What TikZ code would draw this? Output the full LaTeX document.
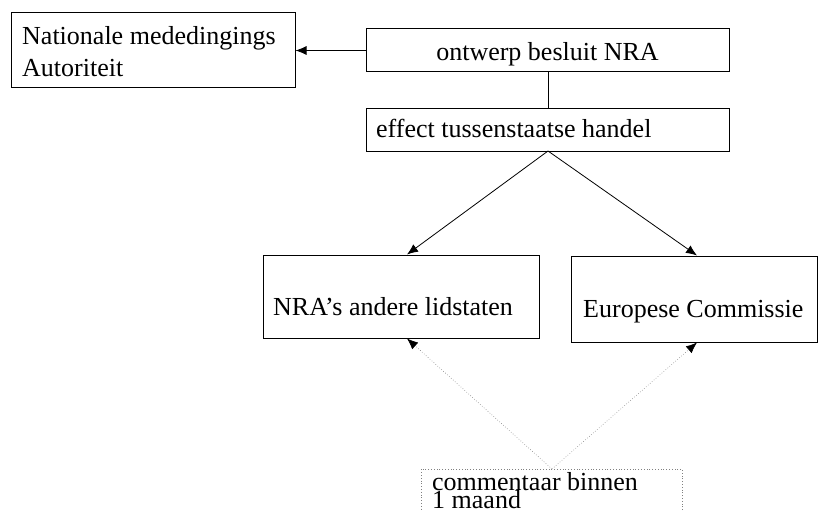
\documentclass[tikz,border=0pt]{standalone}
\usepackage{fontspec}
\setmainfont{Liberation Serif}
\usetikzlibrary{arrows.meta}
\begin{document}
\begin{tikzpicture}[x=1pt,y=-1pt,
  boxshape/.style={draw,line width=1pt,inner sep=0pt},
  txt/.style={anchor=base west,inner sep=0pt,font=\fontsize{26}{31}\selectfont},
  arr/.style={line width=0.8pt,-{Latex[length=11pt,width=9pt]}},
  dotarr/.style={line width=0.6pt,gray,dotted,-{Latex[length=11pt,width=9pt,color=black]}},
  dotbox/.style={draw,gray,line width=0.8pt,dotted,inner sep=0pt}]
\useasboundingbox (0,0) rectangle (819,511);
% boxes
\node[boxshape,minimum width=284pt,minimum height=74pt] (nma) at (153,50) {};
\node[boxshape,minimum width=363pt,minimum height=43pt] (ont) at (547.5,50.5) {};
\node[boxshape,minimum width=363pt,minimum height=43pt] (eff) at (547.5,129.5) {};
\node[boxshape,minimum width=276pt,minimum height=83pt] (nra) at (401,296.5) {};
\node[boxshape,minimum width=246.5pt,minimum height=86pt] (ec) at (694.25,299) {};
\node[dotbox,minimum width=261pt,minimum height=60pt] (com) at (551.5,499) {};
% texts
\node[txt] (t1) at (22,45) {Nationale mededingings};
\node[txt] (t2) at (22,77) {Autoriteit};
\node[txt,anchor=base] (t3) at (547.5,60) {ontwerp besluit NRA};
\node[txt] (t4) at (376,137) {effect tussenstaatse handel};
\node[txt] (t5) at (273,315) {NRA’s andere lidstaten};
\node[txt] (t6) at (583,317) {Europese Commissie};
\node[txt] (t7) at (432,490) {commentaar binnen};
\node[txt] (t8) at (432,508) {1 maand};
% connectors
\draw[arr] (ont.west) -- (nma.east |- ont.west);
\draw[line width=0.8pt] (ont.south -| 548,0) -- (eff.north -| 548,0);
\coordinate (effb) at (548,151);
\draw[arr] (effb) -- (nra.north -| 407,0);
\draw[arr] (effb) -- (ec.north -| 697,0);
\coordinate (comt) at (552,469);
\draw[dotarr] (comt) -- (nra.south -| 407,0);
\draw[dotarr] (comt) -- (ec.south -| 697,0);
\end{tikzpicture}
\end{document}
